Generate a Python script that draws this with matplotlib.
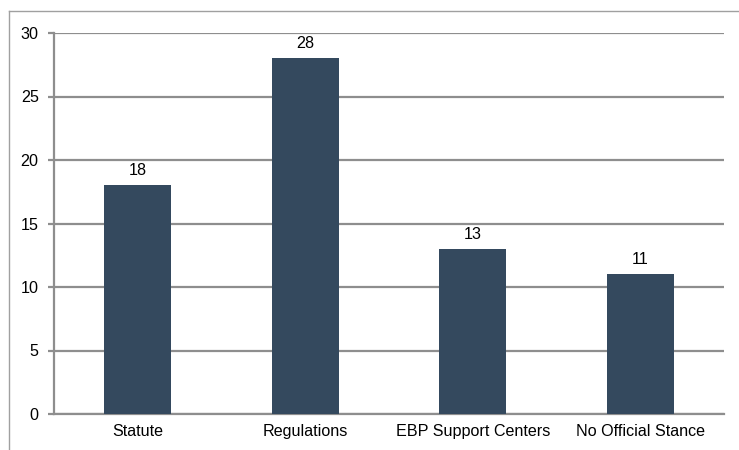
import matplotlib.pyplot as plt
from matplotlib.lines import Line2D

categories = ["Statute", "Regulations", "EBP Support Centers", "No Official Stance"]
counts = [18, 28, 13, 11]
y_ticks = [0, 5, 10, 15, 20, 25, 30]

plt.rcParams["font.family"] = ["Liberation Sans", "DejaVu Sans"]
fs = 11.6

fig = plt.figure(figsize=(7.39, 4.5), dpi=100)
ax = fig.add_axes([54 / 739, 36 / 450, 670 / 739, 381 / 450])

grid_color = "#8e8e8e"
ax.set_axisbelow(True)
ax.yaxis.grid(True, color=grid_color, linewidth=1.6)
bars = ax.bar(range(len(categories)), counts, width=0.4, color="#34495e", zorder=3)

for rect, v in zip(bars, counts):
    ax.annotate(str(v), (rect.get_x() + rect.get_width() / 2, v),
                xytext=(0, 5), textcoords="offset points",
                ha="center", va="bottom", fontsize=fs)

ax.set_xlim(-0.5, len(categories) - 0.5)
ax.set_ylim(0, 30)
ax.set_yticks(y_ticks)
ax.set_xticks(range(len(categories)))
ax.set_xticklabels(categories)
ax.tick_params(axis="x", length=0, pad=7, labelsize=fs)
ax.tick_params(axis="y", length=4, width=1.6, color=grid_color, pad=7, labelsize=fs)

for s in ["top", "right"]:
    ax.spines[s].set_visible(False)
ax.spines["left"].set_color(grid_color)
ax.spines["left"].set_linewidth(1.6)
ax.spines["bottom"].set_color(grid_color)
ax.spines["bottom"].set_linewidth(1.6)

# outer frame (top and left only)
fig.add_artist(Line2D([9 / 739, 1], [1 - 11 / 450, 1 - 11 / 450],
                      transform=fig.transFigure, color="#a0a0a0", linewidth=1))
fig.add_artist(Line2D([9 / 739, 9 / 739], [0, 1 - 11 / 450],
                      transform=fig.transFigure, color="#a0a0a0", linewidth=1))

fig.savefig("out.png", dpi=100)
